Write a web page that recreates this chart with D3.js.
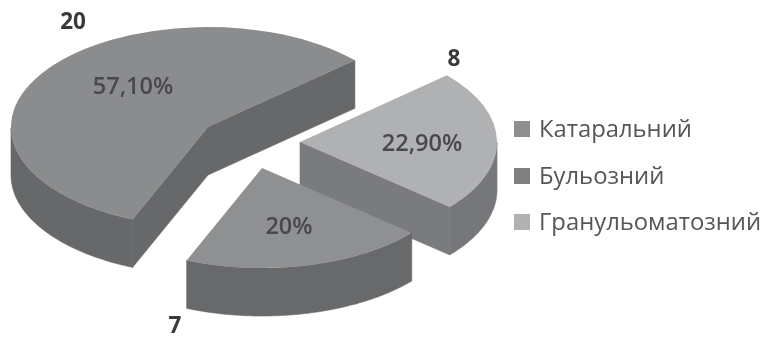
<!DOCTYPE html>
<html><head><meta charset="utf-8">
<script src="https://cdn.jsdelivr.net/npm/d3@7/dist/d3.min.js"></script>
<style>html,body{margin:0;padding:0;background:#fff}svg{display:block;filter:blur(0.7px)}text{font-family:"Open Sans",sans-serif}</style>
</head><body><script>
const categories = ["Катаральний", "Бульозний", "Гранульоматозний"];
const counts = [7, 20, 8];
const percentLabels = ["20%", "57,10%", "22,90%"];

const topColors = ["#8f9092", "#8b8c8e", "#b0b1b3"];
const outerWallColors = ["#68696b", "#67686a", "#76777a"];
const cutWallColors = ["#68696b", "#67686a", "#7a7b7d"];
const legendColors = ["#8e8f91", "#7f8082", "#b0b1b3"];

const W = 764, H = 340, RX = 197, RY = 100, DEPTH = 48;
const apex = [[262, 168], [208, 127], [300, 142]];
const pctPos = [[289, 228], [133, 88], [422, 145]];
const countPos = [[175, 327], [73, 23], [454, 60]];
const legendY = [131, 178, 224];

const svg = d3.select("body").append("svg").attr("width", W).attr("height", H);
const slices = d3.pie().sort(null).startAngle(130.5 * Math.PI / 180).endAngle((130.5 + 360) * Math.PI / 180)(counts);
const arc = d3.arc().innerRadius(0).outerRadius(RX);
const pt = (a, r = 1) => [RX * r * Math.sin(a), -RY * r * Math.cos(a)];
const line = d3.line();

[1, 2, 0].forEach(i => {
  const s = slices[i], [cx, cy] = apex[i];
  const g = svg.append("g").attr("transform", `translate(${cx},${cy})`);
  const wall = (pts, c) => g.append("path").attr("d", line(pts) + "Z").attr("fill", c).attr("stroke", c).attr("stroke-width", 0.6);
  [[s.startAngle, -1], [s.endAngle, 1]].forEach(([a, side]) => {
    if (Math.cos(a + side * Math.PI / 2) < 0) {
      const e = pt(a);
      wall([[0, 0], e, [e[0], e[1] + DEPTH], [0, DEPTH]], cutWallColors[i]);
    }
  });
  const n = 240, front = d3.range(n + 1).map(k => s.startAngle + (s.endAngle - s.startAngle) * k / n).filter(a => Math.cos(a) < 0.002);
  if (front.length) {
    const upper = front.map(a => pt(a));
    const lower = front.slice().reverse().map(a => { const p = pt(a); return [p[0], p[1] + DEPTH]; });
    wall(upper.concat(lower), outerWallColors[i]);
  }
  g.append("path").attr("d", arc(s)).attr("transform", `scale(1,${RY / RX})`).attr("fill", topColors[i]);
});

percentLabels.forEach((t, i) => svg.append("text").text(t).attr("x", pctPos[i][0]).attr("y", pctPos[i][1])
  .attr("text-anchor", "middle").attr("dominant-baseline", "middle").attr("font-size", 23.5).attr("font-weight", 600).attr("fill", "#48494b"));
counts.forEach((t, i) => svg.append("text").text(t).attr("x", countPos[i][0]).attr("y", countPos[i][1])
  .attr("text-anchor", "middle").attr("dominant-baseline", "middle").attr("font-size", 22.5).attr("font-weight", 700).attr("fill", "#3a3a3c"));
categories.forEach((t, i) => {
  svg.append("rect").attr("x", 514).attr("y", legendY[i] - 10).attr("width", 16).attr("height", 16).attr("fill", legendColors[i]);
  svg.append("text").text(t).attr("x", 539).attr("y", legendY[i]).attr("dominant-baseline", "middle")
    .attr("font-size", 23.8).attr("fill", "#55565a");
});
</script></body></html>
